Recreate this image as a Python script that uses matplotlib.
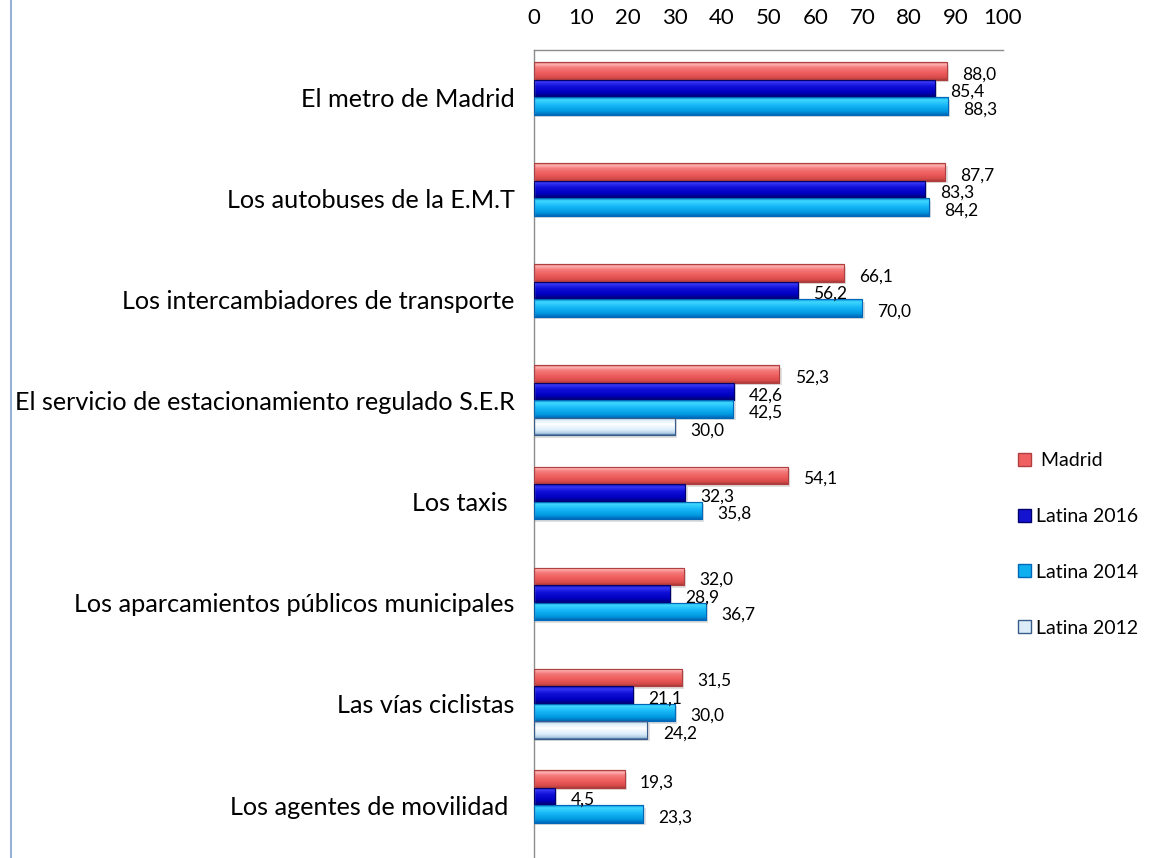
import numpy as np
import matplotlib
matplotlib.use("Agg")
import matplotlib.pyplot as plt
from matplotlib.colors import LinearSegmentedColormap
from matplotlib.patches import Patch
from matplotlib.lines import Line2D

plt.rcParams['font.family'] = ['Lato', 'DejaVu Sans']

categories = ["El metro de Madrid", "Los autobuses de la E.M.T",
              "Los intercambiadores de transporte",
              "El servicio de estacionamiento regulado S.E.R",
              "Los taxis ", "Los aparcamientos públicos municipales",
              "Las vías ciclistas", "Los agentes de movilidad "]
series_names = [" Madrid", "Latina 2016", "Latina 2014", "Latina 2012"]
madrid = [88.0, 87.7, 66.1, 52.3, 54.1, 32.0, 31.5, 19.3]
latina_2016 = [85.4, 83.3, 56.2, 42.6, 32.3, 28.9, 21.1, 4.5]
latina_2014 = [88.3, 84.2, 70.0, 42.5, 35.8, 36.7, 30.0, 23.3]
latina_2012 = [np.nan, np.nan, np.nan, 30.0, np.nan, np.nan, 24.2, np.nan]
xticks = list(range(0, 101, 10))

series = [madrid, latina_2016, latina_2014, latina_2012]
# edge colour, legend face colour, vertical gradient stops
styles = [
    ("#B04040", "#F06262",
     [(0.0, "#C85050"), (0.1, "#FFB5B5"), (0.3, "#F47A7A"), (0.6, "#EE5D5D"),
      (0.88, "#D84A4A"), (1.0, "#A83A3A")]),
    ("#00006E", "#1414D0",
     [(0.0, "#0000A0"), (0.15, "#3838F8"), (0.4, "#1010D8"), (0.75, "#0000C0"),
      (1.0, "#000070")]),
    ("#0068B8", "#10B0F0",
     [(0.0, "#0090E0"), (0.15, "#40D8FF"), (0.45, "#18B8F8"), (0.8, "#0098E0"),
      (1.0, "#0068B8")]),
    ("#385D8A", "#DCEBF8",
     [(0.0, "#385D8A"), (0.12, "#D8EAF8"), (0.4, "#FFFFFF"), (0.75, "#D8EAF8"),
      (0.93, "#A8C8E4"), (1.0, "#385D8A")]),
]

W, H = 1166, 858
fig = plt.figure(figsize=(W / 100, H / 100), dpi=100)
ax = fig.add_axes([534 / W, 0, 469 / W, 808 / H])

n = len(categories)
y = np.arange(n)
slot = 0.173
grad = np.linspace(0, 1, 64).reshape(-1, 1)

for k, (vals, st) in enumerate(zip(series, styles)):
    edge, face, stops = st
    cmap = LinearSegmentedColormap.from_list(f"c{k}", stops)
    vals = np.array(vals, dtype=float)
    mask = ~np.isnan(vals)
    ypos = y + (k - 1.5) * slot
    # soft shadow
    ax.barh(ypos[mask] + 0.025, vals[mask] + 0.5, height=slot, color="#000000",
            alpha=0.12, linewidth=0, zorder=1.5)
    bars = ax.barh(ypos[mask], vals[mask], height=slot, color=face,
                   edgecolor=edge, linewidth=0.8, zorder=2)
    for rect in bars:
        x0, y0 = rect.get_xy()
        w, h = rect.get_width(), rect.get_height()
        im = ax.imshow(grad, extent=(x0, x0 + w, y0 + h, y0), origin='upper',
                       aspect='auto', cmap=cmap, zorder=2.5, interpolation='bilinear')
        im.set_clip_path(rect)
        ax.add_patch(plt.Rectangle((x0, y0), w, h, fill=False, edgecolor=edge,
                                   linewidth=0.8, zorder=3))
    for yy, v in zip(ypos[mask], vals[mask]):
        ax.annotate(f"{v:.1f}".replace(".", ","), (v, yy), xytext=(11, -2.5),
                    textcoords="offset points", ha="left", va="center",
                    fontsize=12.5, color="black", zorder=4)

ax.set_xlim(0, 100)
ax.set_ylim(7.524, -0.465)
ax.set_xticks(xticks)
ax.xaxis.tick_top()
ax.tick_params(axis='x', length=0, pad=15.5, labelsize=16)
ax.set_yticks(y)
ax.set_yticklabels(categories)
ax.tick_params(axis='y', length=0, pad=14, labelsize=18.2)
for s in ['right', 'bottom']:
    ax.spines[s].set_visible(False)
for s in ['top', 'left']:
    ax.spines[s].set_color('#8C8C8C')
    ax.spines[s].set_linewidth(1.0)

handles = [Patch(facecolor=st[1], edgecolor=st[0], linewidth=1.0) for st in styles]
fig.legend(handles, series_names, loc='upper left',
           bbox_to_anchor=(1018 / W, 1 - 452 / H), frameon=False,
           fontsize=14, handlelength=0.65, handleheight=0.65,
           handletextpad=0.25, labelspacing=2.0, borderpad=0, borderaxespad=0)

fig.add_artist(Line2D([11 / W, 11 / W], [0, 1], color='#95B3D7', lw=1.5))

fig.savefig("out.png", dpi=100)
